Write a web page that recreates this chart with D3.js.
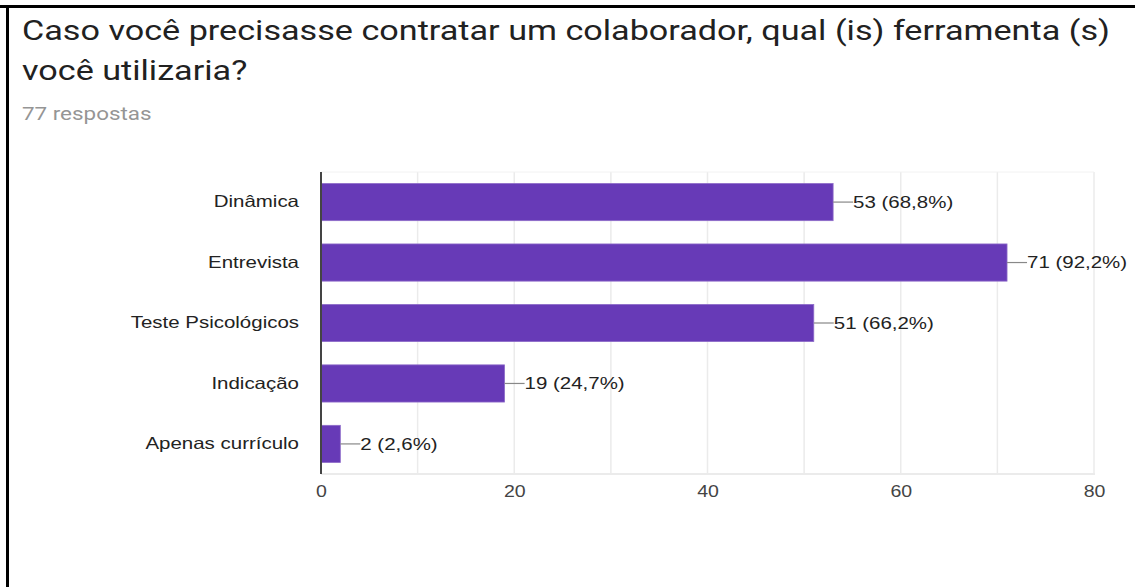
<!DOCTYPE html>
<html>
<head>
<meta charset="utf-8">
<script src="https://cdn.jsdelivr.net/npm/d3@7"></script>
<style>
  html, body { margin: 0; padding: 0; background: #fff; }
  svg { display: block; }
</style>
</head>
<body>
<script>
const categories = ["Dinâmica", "Entrevista", "Teste Psicológicos", "Indicação", "Apenas currículo"];
const counts = [53, 71, 51, 19, 2];
const percentLabels = ["68,8%", "92,2%", "66,2%", "24,7%", "2,6%"];
const tickValues = [0, 20, 40, 60, 80];
const gridValues = [0, 10, 20, 30, 40, 50, 60, 70, 80];
const titleLines = ["Caso você precisasse contratar um colaborador, qual (is) ferramenta (s)", "você utilizaria?"];
const subtitle = "77 respostas";

const W = 1135, H = 587;
const svg = d3.select("body").append("svg").attr("width", W).attr("height", H);

// widen glyphs horizontally by a factor, keeping the text anchor
function widen(sel, k) {
  sel.each(function () {
    const len = this.getComputedTextLength();
    d3.select(this).attr("textLength", len * k).attr("lengthAdjust", "spacingAndGlyphs");
  });
}

// frame edges
svg.append("rect").attr("x", 0).attr("y", 5).attr("width", W).attr("height", 3).attr("fill", "#000");
svg.append("rect").attr("x", 6).attr("y", 5).attr("width", 3).attr("height", H - 5).attr("fill", "#000");

// heading
svg.append("g").selectAll("text").data(titleLines).join("text")
  .attr("x", 22).attr("y", (d, i) => 40 + i * 40)
  .attr("font-family", "Roboto, Arial, sans-serif").attr("font-size", 28)
  .attr("fill", "#212121").text(d => d)
  .call(widen, 1.22);
svg.append("text").attr("x", 22).attr("y", 120)
  .attr("font-family", "Roboto, Arial, sans-serif").attr("font-size", 17.5)
  .attr("fill", "#959595").text(subtitle)
  .call(widen, 1.28);

const plotLeft = 321, plotRight = 1094, plotTop = 172, plotBottom = 474;
const x = d3.scaleLinear().domain([0, 80]).range([plotLeft, plotRight]);
const y = d3.scaleBand().domain(categories).range([plotTop, plotBottom]).paddingInner(0.385).paddingOuter(0.19);

// grid
svg.append("g").selectAll("line").data(gridValues).join("line")
  .attr("x1", d => x(d)).attr("x2", d => x(d)).attr("y1", plotTop).attr("y2", plotBottom)
  .attr("stroke", "#ebebeb").attr("stroke-width", 1.5);
svg.append("line").attr("x1", plotLeft).attr("x2", plotRight).attr("y1", plotTop).attr("y2", plotTop)
  .attr("stroke", "#f2f2f2").attr("stroke-width", 1);
svg.append("line").attr("x1", plotLeft).attr("x2", plotRight + 1).attr("y1", plotBottom).attr("y2", plotBottom)
  .attr("stroke", "#ebebeb").attr("stroke-width", 2);

// x tick labels
const xAxis = d3.axisBottom(x).tickValues(tickValues).tickSize(0).tickPadding(12).tickFormat(d3.format("d"));
const gx = svg.append("g").attr("transform", `translate(0,${plotBottom})`).call(xAxis);
gx.select(".domain").remove();
gx.selectAll("text").attr("font-family", "Arial, 'Liberation Sans', sans-serif")
  .attr("font-size", 16).attr("fill", "#444")
  .call(widen, 1.22);

// category labels
const yAxis = d3.axisLeft(y).tickSize(0).tickPadding(22);
const gy = svg.append("g").attr("transform", `translate(${plotLeft},0)`).call(yAxis);
gy.select(".domain").remove();
gy.selectAll("text").attr("font-family", "Arial, 'Liberation Sans', sans-serif")
  .attr("font-size", 16.5).attr("fill", "#222")
  .call(widen, 1.24);

const data = categories.map((c, i) => ({ c, v: counts[i], p: percentLabels[i] }));

// bars
svg.append("g").selectAll("rect").data(data).join("rect")
  .attr("x", x(0)).attr("y", d => y(d.c))
  .attr("width", d => x(d.v) - x(0)).attr("height", y.bandwidth())
  .attr("fill", "#673ab7").attr("stroke", "#8e6cc9").attr("stroke-width", 0.8);

// leader lines and value labels
const lab = svg.append("g");
lab.selectAll("line").data(data).join("line")
  .attr("x1", d => x(d.v)).attr("x2", d => x(d.v) + 20)
  .attr("y1", d => y(d.c) + y.bandwidth() / 2).attr("y2", d => y(d.c) + y.bandwidth() / 2)
  .attr("stroke", "#888").attr("stroke-width", 1.2);
lab.selectAll("text").data(data).join("text")
  .attr("x", d => x(d.v) + 20).attr("y", d => y(d.c) + y.bandwidth() / 2)
  .attr("dy", "0.35em")
  .attr("font-family", "Arial, 'Liberation Sans', sans-serif")
  .attr("font-size", 16.5).attr("fill", "#222")
  .text(d => `${d.v} (${d.p})`)
  .call(widen, 1.24);

// value axis line at zero
svg.append("line").attr("x1", plotLeft).attr("x2", plotLeft).attr("y1", plotTop).attr("y2", plotBottom)
  .attr("stroke", "#444").attr("stroke-width", 2);
</script>
</body>
</html>
